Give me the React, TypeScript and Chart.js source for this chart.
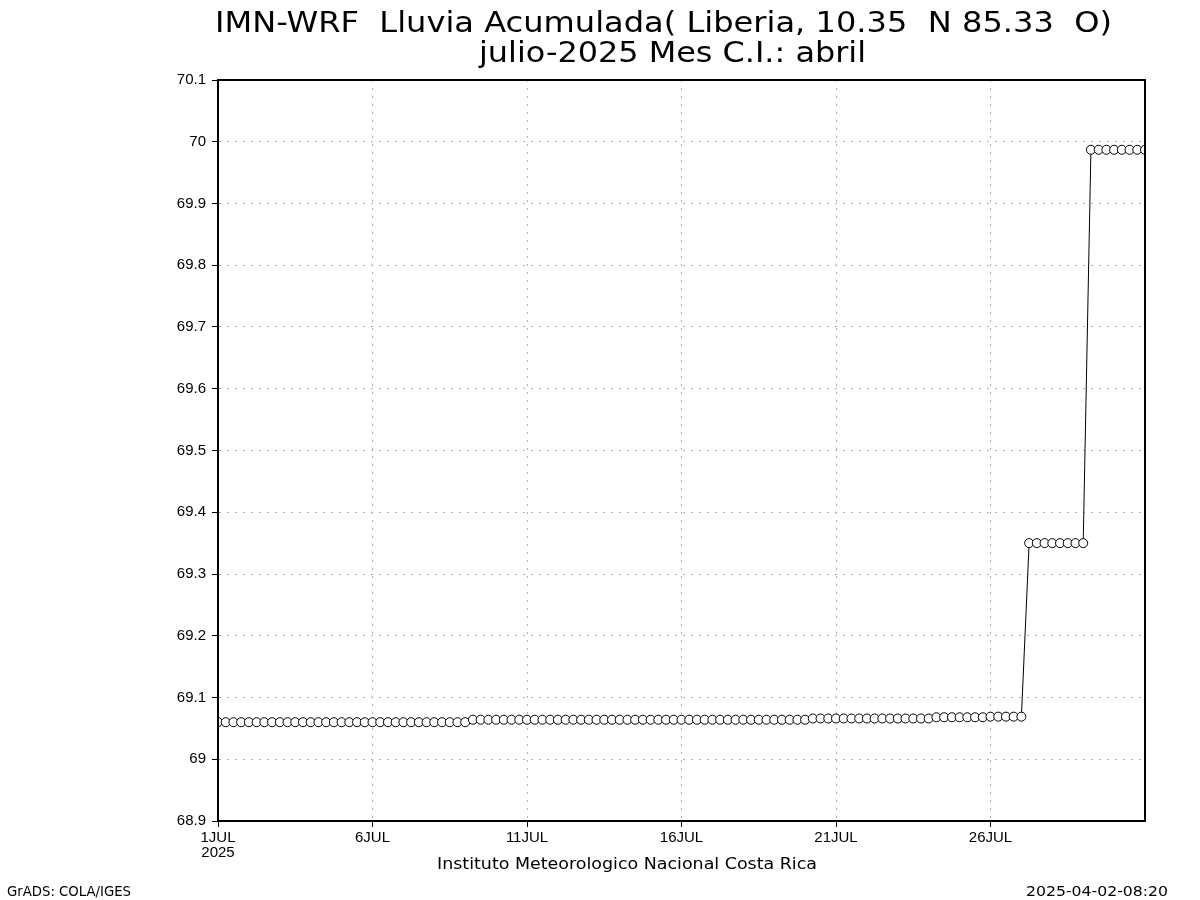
import { useEffect, useRef } from 'react';
import { Chart, registerables } from 'chart.js';

Chart.register(...registerables);

const TITLE_LINE_1 = 'IMN-WRF  Lluvia Acumulada( Liberia, 10.35  N 85.33  O)';
const TITLE_LINE_2 = 'julio-2025 Mes C.I.: abril';
const X_AXIS_TITLE = 'Instituto Meteorologico Nacional Costa Rica';
const FOOTER_LEFT = 'GrADS: COLA/IGES';
const FOOTER_RIGHT = '2025-04-02-08:20';

const MONTH = 'JUL';
const YEAR = '2025';
const STEPS_PER_DAY = 4; // 6-hourly values
const X_TICK_DAYS = [1, 6, 11, 16, 21, 26];
const X_MAX_INDEX = 120;
const Y_TICKS = [68.9, 69.0, 69.1, 69.2, 69.3, 69.4, 69.5, 69.6, 69.7, 69.8, 69.9, 70.0, 70.1];

// Accumulated rainfall (mm), 6-hourly from 1 JUL 00Z to 31 JUL 00Z
const rainfall = [
  69.060, 69.060, 69.060, 69.060, // 1
  69.060, 69.060, 69.060, 69.060, // 2
  69.060, 69.060, 69.060, 69.060, // 3
  69.060, 69.060, 69.060, 69.060, // 4
  69.060, 69.060, 69.060, 69.060, // 5
  69.060, 69.060, 69.060, 69.060, // 6
  69.060, 69.060, 69.060, 69.060, // 7
  69.060, 69.060, 69.060, 69.060, // 8
  69.060, 69.064, 69.064, 69.064, // 9
  69.064, 69.064, 69.064, 69.064, // 10
  69.064, 69.064, 69.064, 69.064, // 11
  69.064, 69.064, 69.064, 69.064, // 12
  69.064, 69.064, 69.064, 69.064, // 13
  69.064, 69.064, 69.064, 69.064, // 14
  69.064, 69.064, 69.064, 69.064, // 15
  69.064, 69.064, 69.064, 69.064, // 16
  69.064, 69.064, 69.064, 69.064, // 17
  69.064, 69.064, 69.064, 69.064, // 18
  69.064, 69.064, 69.064, 69.064, // 19
  69.064, 69.066, 69.066, 69.066, // 20
  69.066, 69.066, 69.066, 69.066, // 21
  69.066, 69.066, 69.066, 69.066, // 22
  69.066, 69.066, 69.066, 69.066, // 23
  69.066, 69.068, 69.068, 69.068, // 24
  69.068, 69.068, 69.068, 69.068, // 25
  69.069, 69.069, 69.069, 69.069, // 26
  69.069, 69.350, 69.350, 69.350, // 27
  69.350, 69.350, 69.350, 69.350, // 28
  69.350, 69.987, 69.987, 69.987, // 29
  69.987, 69.987, 69.987, 69.987, // 30
  69.987, // 31
];

const TEXT_FONT = '"DejaVu Sans", sans-serif';
const TICK_FONT = 'Liberation Sans';

function drawFit(
  ctx: CanvasRenderingContext2D,
  text: string,
  left: number,
  baseline: number,
  width: number,
  size: number
) {
  ctx.save();
  ctx.font = `${size}px ${TEXT_FONT}`;
  const w = ctx.measureText(text).width || 1;
  ctx.translate(left, baseline);
  ctx.scale(width / w, 1);
  ctx.textAlign = 'left';
  ctx.textBaseline = 'alphabetic';
  ctx.fillStyle = '#000';
  ctx.fillText(text, 0, 0);
  ctx.restore();
}

const decorPlugin = {
  id: 'gradsDecor',
  afterDraw(chart: any) {
    const ctx: CanvasRenderingContext2D = chart.ctx;
    const a = chart.chartArea;
    ctx.save();
    ctx.strokeStyle = '#000';
    ctx.lineWidth = 2;
    ctx.setLineDash([]);
    ctx.strokeRect(a.left, a.top, a.right - a.left, a.bottom - a.top);
    ctx.restore();

    drawFit(ctx, TITLE_LINE_1, 215, 32, 897, 28);
    drawFit(ctx, TITLE_LINE_2, 479, 62, 387, 28);
    drawFit(ctx, X_AXIS_TITLE, 437, 869, 380, 16);
    drawFit(ctx, FOOTER_LEFT, 7, 896, 124, 14);
    drawFit(ctx, FOOTER_RIGHT, 1026, 896, 142, 14);
  },
};

export default function App() {
  const canvasRef = useRef<HTMLCanvasElement | null>(null);

  useEffect(() => {
    if (!canvasRef.current) return;
    const points = rainfall.map((v, i) => ({ x: i, y: v }));
    const chart = new Chart(canvasRef.current, {
      type: 'line',
      data: {
        datasets: [
          {
            data: points,
            borderColor: '#000',
            borderWidth: 1,
            pointRadius: 4.5,
            pointHoverRadius: 4.5,
            pointBackgroundColor: '#fff',
            pointBorderColor: '#000',
            pointBorderWidth: 1,
            tension: 0,
            fill: false,
          },
        ],
      },
      options: {
        animation: false,
        responsive: true,
        maintainAspectRatio: false,
        events: [],
        layout: { padding: { top: 80, right: 55, bottom: 0, left: 0 } },
        plugins: {
          legend: { display: false },
          title: { display: false },
          tooltip: { enabled: false },
        },
        scales: {
          x: {
            type: 'linear',
            min: 0,
            max: X_MAX_INDEX,
            afterBuildTicks: (scale: any) => {
              scale.ticks = X_TICK_DAYS.map((d) => ({ value: (d - 1) * STEPS_PER_DAY }));
            },
            afterFit: (scale: any) => {
              scale.height = 79;
            },
            ticks: {
              autoSkip: false,
              maxRotation: 0,
              padding: 4,
              color: '#000',
              font: { family: TICK_FONT, size: 15, lineHeight: 0.95 },
              callback: (v: any) => {
                const day = Number(v) / STEPS_PER_DAY + 1;
                const lbl = `${day}${MONTH}`;
                return day === 1 ? [lbl, YEAR] : lbl;
              },
            },
            grid: {
              color: '#b4b4b4',
              lineWidth: 1,
              tickLength: 6,
              tickColor: '#000',
              tickBorderDash: [],
              drawTicks: true,
            },
            border: { display: true, color: '#000', width: 2, dash: [2, 6] },
          },
          y: {
            type: 'linear',
            min: Y_TICKS[0],
            max: Y_TICKS[Y_TICKS.length - 1],
            afterBuildTicks: (scale: any) => {
              scale.ticks = Y_TICKS.map((v) => ({ value: v }));
            },
            afterFit: (scale: any) => {
              scale.width = 218;
            },
            ticks: {
              autoSkip: false,
              padding: 6,
              color: '#000',
              font: { family: TICK_FONT, size: 15 },
              callback: (v: any) => String(Number(Number(v).toFixed(1))),
            },
            grid: {
              color: '#b4b4b4',
              lineWidth: 1,
              tickLength: 6,
              tickColor: '#000',
              tickBorderDash: [],
              drawTicks: true,
            },
            border: { display: true, color: '#000', width: 2, dash: [2, 6] },
          },
        },
      } as any,
      plugins: [decorPlugin],
    });
    return () => chart.destroy();
  }, []);

  return (
    <div
      style={{
        position: 'fixed',
        left: 0,
        top: 0,
        width: 1200,
        height: 900,
        background: '#fff',
      }}
    >
      <canvas ref={canvasRef} />
    </div>
  );
}
